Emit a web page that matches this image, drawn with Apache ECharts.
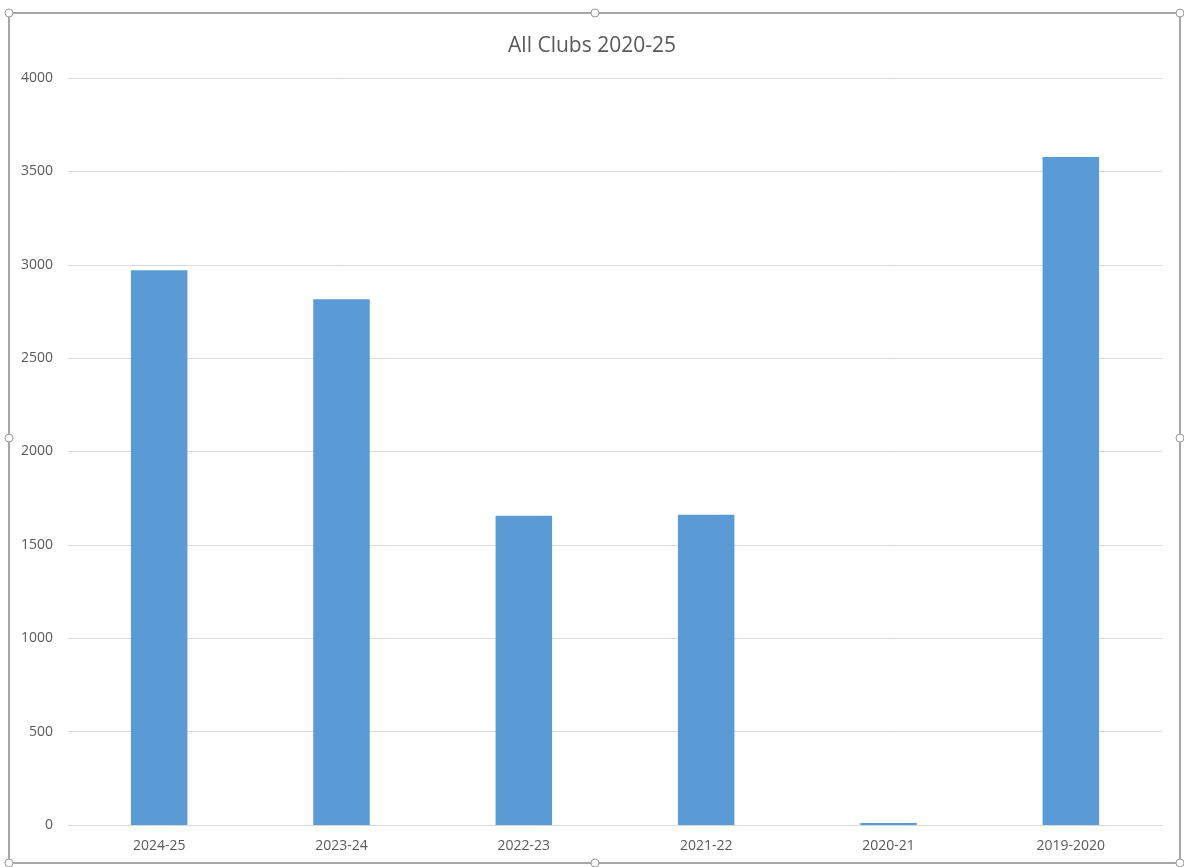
<!DOCTYPE html>
<html>
<head>
<meta charset="utf-8">
<title>All Clubs 2020-25</title>
<script src="https://cdn.jsdelivr.net/npm/echarts@6/dist/echarts.min.js"></script>
<style>
  html, body { margin: 0; padding: 0; background: #fff; }
  #chart { width: 1184px; height: 867px; }
</style>
</head>
<body>
<div id="chart"></div>
<script>
// data
const seasons = ['2024-25', '2023-24', '2022-23', '2021-22', '2020-21', '2019-2020'];
const members = [2970, 2815, 1656, 1661, 11, 3577];

const chart = echarts.init(document.getElementById('chart'));

// frame + selection handles like the office chart box
const handlePts = [
  [9, 13], [595, 13], [1180, 13],
  [9, 438], [1180, 438],
  [9, 863], [595, 863], [1180, 863]
];
const handles = handlePts.map(p => ({
  type: 'circle',
  shape: { cx: p[0], cy: p[1], r: 4 },
  style: { fill: '#fff', stroke: '#9a9a9a', lineWidth: 1 },
  z: 10
}));

chart.setOption({
  animation: false,
  title: {
    text: 'All Clubs 2020-25',
    left: 'center',
    top: 31,
    textStyle: {
      fontFamily: 'Open Sans',
      fontSize: 21,
      fontWeight: 'normal',
      color: '#595959'
    }
  },
  grid: {
    left: 68,
    right: 22,
    top: 78,
    bottom: 42,
    containLabel: false
  },
  xAxis: {
    type: 'category',
    data: seasons,
    axisTick: { show: false },
    axisLine: { lineStyle: { color: '#d9d9d9' } },
    axisLabel: {
      color: '#595959',
      fontFamily: 'Open Sans',
      fontSize: 14,
      margin: 14
    }
  },
  yAxis: {
    type: 'value',
    min: 0,
    max: 4000,
    interval: 500,
    axisLine: { show: false },
    axisTick: { show: false },
    axisLabel: {
      color: '#595959',
      fontFamily: 'Open Sans',
      fontSize: 14,
      margin: 15,
      formatter: v => String(v)
    },
    splitLine: { lineStyle: { color: '#d9d9d9' } }
  },
  series: [{
    type: 'bar',
    data: members,
    barWidth: '31%',
    itemStyle: { color: '#5b9bd5' }
  }],
  graphic: [
    {
      type: 'rect',
      shape: { x: 9, y: 13, width: 1171, height: 850 },
      style: { fill: 'none', stroke: '#a6a6a6', lineWidth: 2 },
      z: 5
    }
  ].concat(handles)
});
</script>
</body>
</html>
